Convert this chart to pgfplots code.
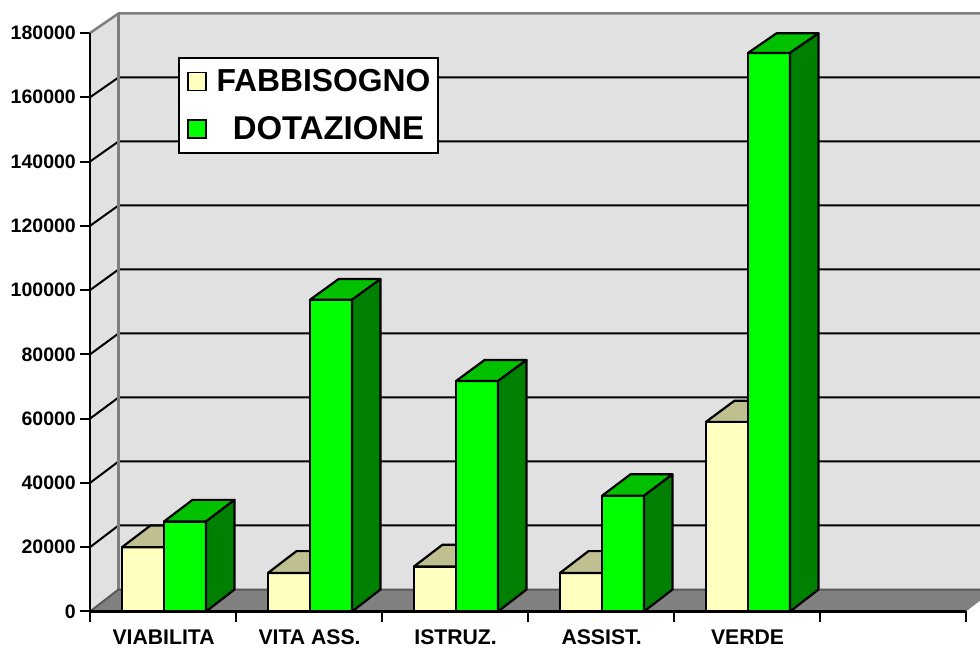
\documentclass[border=0pt]{standalone}
\usepackage{pgfplots}
\pgfplotsset{compat=1.18}
\usepackage{fontspec}
\setmainfont{Liberation Sans}
\definecolor{wall}{HTML}{E1E1E1}
\definecolor{floorc}{HTML}{808080}
\definecolor{edgeg}{HTML}{7F7F7F}
\definecolor{fabbF}{HTML}{FFFFC0}
\definecolor{fabbT}{HTML}{BFBF90}
\definecolor{dotF}{HTML}{00FF00}
\definecolor{dotT}{HTML}{00C000}
\definecolor{dotS}{HTML}{008000}
\newcommand\dx{0.1952}
\newcommand\dy{6845}
\newcommand\backy[1]{\the\numexpr#1*9957/10000+\dy\relax}
% one bar: left x, right x, value, front colour, top colour
\newcommand\onebar[5]{%
  \pgfmathsetmacro\xaa{#1+\dx}%
  \pgfmathsetmacro\xbb{#2+\dx}%
  \edef\ytop{\backy{#3}}%
  \edef\doit{\noexpand\addplot[fill=#4,draw=black,line width=2.2pt,line join=round,forget plot] coordinates {(#1,0) (#1,#3) (#2,#3) (#2,0)} -- cycle;
    \noexpand\addplot[fill=#5,draw=black,line width=2.2pt,line join=round,forget plot] coordinates {(#1,#3) (\xaa,\ytop) (\xbb,\ytop) (#2,#3)} -- cycle;}%
  \doit
}
\newcommand\sideface[2]{%
  \pgfmathsetmacro\xbb{#1+\dx}%
  \edef\ytop{\backy{#2}}%
  \edef\doit{\noexpand\addplot[fill=dotS,draw=black,line width=2.2pt,line join=round,forget plot] coordinates {(#1,0) (#1,#2) (\xbb,\ytop) (\xbb,\dy)} -- cycle;}%
  \doit
}
\newcommand\gridl[1]{%
  \edef\ytop{\backy{#1}}%
  \edef\doit{\noexpand\addplot[black,line width=2pt,forget plot] coordinates {(0,#1) (\dx,\ytop) (6.09589,\ytop)};}%
  \doit
}
\begin{document}
\begin{tikzpicture}[x=1pt,y=1pt]
\useasboundingbox (0,0) rectangle (980,648);
\begin{axis}[
  at={(90pt,36.5pt)},anchor=south west,
  scale only axis,width=890pt,height=599.5pt,
  xmin=0,xmax=6.09589,ymin=0,ymax=186534,
  clip=false,
  /pgf/number format/fixed,
  /pgf/number format/assume math mode=true,
  /pgf/number format/1000 sep={},
  axis line style={draw=none},
  xtick={0.5,1.5,2.5,3.5,4.5},
  xticklabels={VIABILITA,VITA ASS.,ISTRUZ.,ASSIST.,VERDE},
  minor xtick={0,1,2,3,4,5,6},
  ytick={0,20000,40000,60000,80000,100000,120000,140000,160000,180000},
  scaled y ticks=false,
  tick align=outside,
  x tick style={draw=none},
  minor x tick style={draw=black,line width=2pt},
  y tick style={draw=black,line width=2pt},
  major tick length=10pt,minor tick length=10pt,
  xtick pos=bottom,ytick pos=left,
  yticklabel style={font=\bfseries\fontsize{19.5}{20}\selectfont,inner sep=0pt,xshift=-4pt},
  xticklabel style={font=\bfseries\fontsize{21.2}{22}\selectfont,inner sep=0pt,yshift=-8.2pt,xshift=0.6pt,anchor=north},
  legend style={at={(0.0989,0.925)},anchor=north west,draw=black,line width=2pt,fill=white,
    font=\bfseries\fontsize{31.8}{33}\selectfont,
    row sep=23.5pt,inner xsep=8pt,inner ysep=11.5pt,
    /tikz/column 1/.style={column sep=10pt},
    nodes={inner sep=0pt}},
  legend cell align=center,
  legend image code/.code={\draw[#1] (0pt,-9pt) rectangle (18pt,9pt);},
]
% walls and floor
\addplot[fill=wall,draw=none,forget plot] coordinates {(0,0) (0,180000) (\dx,186071) (6.09589,186071) (6.09589,6845) (\dx,6845)} -- cycle;
\addplot[fill=floorc,draw=none,forget plot] coordinates {(0,0) (6,0) (6.09589,3362) (6.09589,6845) (\dx,6845)} -- cycle;
% gridlines
\gridl{20000}\gridl{40000}\gridl{60000}\gridl{80000}\gridl{100000}\gridl{120000}\gridl{140000}\gridl{160000}
% frame in grey
\addplot[edgeg,line width=2.5pt,forget plot] coordinates {(0,180000) (\dx,186071) (6.09589,186071)};
\addplot[edgeg,line width=2.5pt,forget plot] coordinates {(\dx,186071) (\dx,6845)};
\addplot[edgeg!70!black,line width=2pt,forget plot] coordinates {(0,0) (\dx,6845) (6.09589,6845)};
% bars: FABBISOGNO, DOTAZIONE
\onebar{0.2192}{0.5069}{20000}{fabbF}{fabbT}\onebar{0.5069}{0.7945}{28000}{dotF}{dotT}\sideface{0.7945}{28000}
\onebar{1.2192}{1.5069}{12000}{fabbF}{fabbT}\onebar{1.5069}{1.7945}{97000}{dotF}{dotT}\sideface{1.7945}{97000}
\onebar{2.2192}{2.5069}{14000}{fabbF}{fabbT}\onebar{2.5069}{2.7945}{71700}{dotF}{dotT}\sideface{2.7945}{71700}
\onebar{3.2192}{3.5069}{12000}{fabbF}{fabbT}\onebar{3.5069}{3.7945}{36000}{dotF}{dotT}\sideface{3.7945}{36000}
\onebar{4.2192}{4.5069}{59000}{fabbF}{fabbT}\onebar{4.5069}{4.7945}{173800}{dotF}{dotT}\sideface{4.7945}{173800}
% front axis lines
\addplot[black,line width=2.5pt,forget plot] coordinates {(0,180000) (0,0) (6,0)};
\addlegendimage{fill=fabbF,draw=black,line width=1.5pt}
\addlegendentry{FABBISOGNO}
\addlegendimage{fill=dotF,draw=black,line width=1.5pt}
\addlegendentry{\hspace*{10pt}\fontsize{32.9}{33}\selectfont DOTAZIONE}
\end{axis}
\end{tikzpicture}
\end{document}
